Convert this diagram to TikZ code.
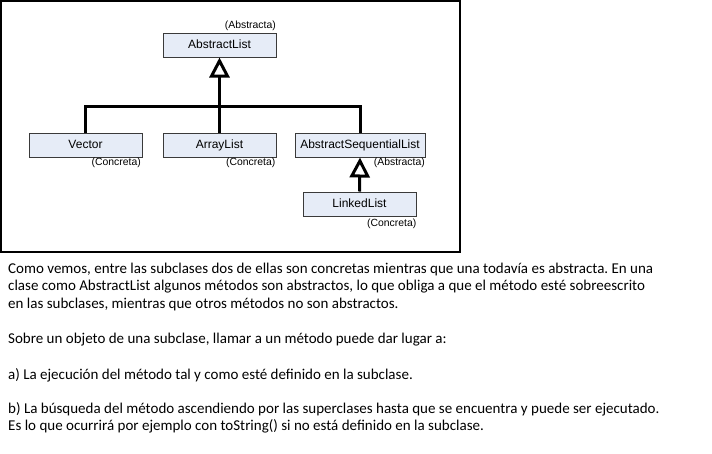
\documentclass[tikz,border=0pt]{standalone}
\usepackage{fontspec}
\setmainfont{Carlito}
\newfontfamily\diag{Liberation Sans}
\usetikzlibrary{arrows.meta}
\definecolor{boxfill}{HTML}{E6ECF7}
\definecolor{boxline}{HTML}{3A3A3A}
\tikzset{
  cls/.style={draw=boxline, line width=1pt, fill=boxfill, minimum height=24pt, inner sep=0pt, text height=8.6pt, text depth=2.6pt, font=\diag\fontsize{12}{14}\selectfont},
  note/.style={inner sep=0pt, font=\diag\fontsize{10.4}{12}\selectfont},
  bus/.style={line width=3pt},
  inh/.style={line width=3pt, -{Triangle[open, length=20pt, width=20pt, line width=3pt]}},
  txt/.style={anchor=base west, inner sep=0pt, font=\fontsize{15}{17}\selectfont}
}
\begin{document}
\frenchspacing
\begin{tikzpicture}[x=1pt, y=-1pt]
\useasboundingbox (0,0) rectangle (712,453);
\fill[white] (0,0) rectangle (712,453);
\draw[line width=2pt] (1,1) rectangle (460,252);
% classes
\node[cls, minimum width=113pt] (al)  at (219.5,45)  {AbstractList};
\node[cls, minimum width=113pt] (vec) at (85.5,145)  {Vector};
\node[cls, minimum width=113pt] (arr) at (219.5,145) {ArrayList};
\node[cls, minimum width=130pt] (asl) at (360,145)   {AbstractSequentialList};
\node[cls, minimum width=113pt] (ll)  at (359.5,204) {LinkedList};
% notes
\node[note, anchor=base east] (n1) at (276,28.5) {(Abstracta)};
\node[note, anchor=base east] (n2) at (141,165) {(Concreta)};
\node[note, anchor=base east] (n3) at (275.5,165) {(Concreta)};
\node[note, anchor=base east] (n4) at (425,165) {(Abstracta)};
\node[note, anchor=base east] (n5) at (416.5,226) {(Concreta)};
% connectors
\coordinate (bus) at (219.5,106);
\draw[bus] (vec.north) |- (bus) -| (asl.north);
\draw[inh] (arr.north) -- (al.south);
\draw[inh] (ll.north) -- (asl.south);
% text
\node[txt] (t1) at (8,273) {Como vemos, entre las subclases dos de ellas son concretas mientras que una todavía es abstracta. En una};
\node[txt] (t2) at (8,290.5) {clase como AbstractList algunos métodos son abstractos, lo que obliga a que el método esté sobreescrito};
\node[txt] (t3) at (8,308) {en las subclases, mientras que otros métodos no son abstractos.};
\node[txt] (t4) at (8,343.5) {Sobre un objeto de una subclase, llamar a un método puede dar lugar a:};
\node[txt] (t5) at (8,379) {a) La ejecución del método tal y como esté definido en la subclase.};
\node[txt] (t6) at (8,413) {b) La búsqueda del método ascendiendo por las superclases hasta que se encuentra y puede ser ejecutado.};
\node[txt] (t7) at (8,430.5) {Es lo que ocurrirá por ejemplo con toString() si no está definido en la subclase.};
\end{tikzpicture}
\end{document}
